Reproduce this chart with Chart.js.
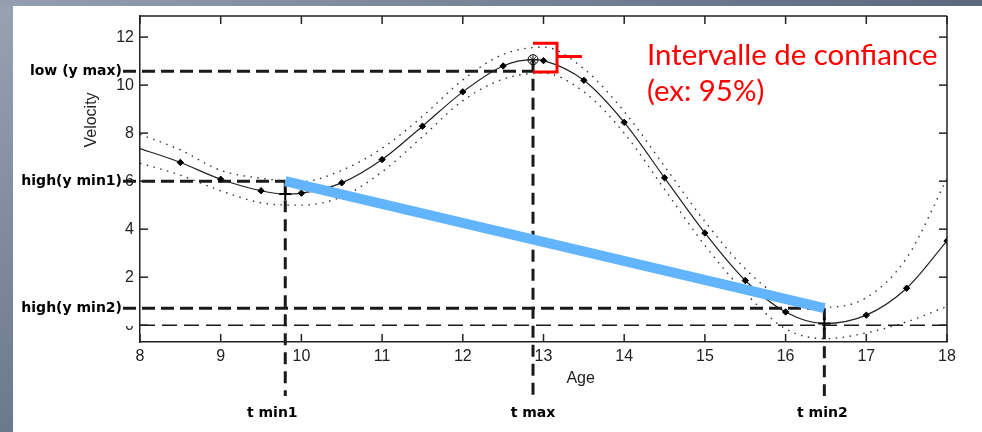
<!DOCTYPE html>
<html>
<head>
<meta charset="utf-8">
<script src="https://cdn.jsdelivr.net/npm/chart.js@4.4.1/dist/chart.umd.min.js"></script>
<style>
html, body { margin: 0; padding: 0; }
body { width: 982px; height: 432px; overflow: hidden; position: relative;
       background: linear-gradient(to bottom, #97a2b3, #6c788b); }
#band { position: absolute; left: 0; top: 0; width: 982px; height: 6px;
        background: linear-gradient(to right, #949fb0, #5b687d); }
#sheet { position: absolute; left: 13px; top: 6px; right: 0; bottom: 0; background: #fff; }
canvas { position: absolute; left: 0; top: 0; }
</style>
</head>
<body>
<div id="band"></div>
<div id="sheet"></div>
<canvas id="velocity" width="982" height="432"></canvas>
<script>
// fitted growth velocity: markers every half year plus the two minima and the peak
var curveAge      = [8, 8.5, 9, 9.5, 9.8, 10, 10.5, 11, 11.5, 12, 12.5, 12.87, 13, 13.5, 14, 14.5, 15, 15.5, 16, 16.48, 17, 17.5, 18];
var curveVelocity = [7.36, 6.78, 6.08, 5.6, 5.46, 5.5, 5.93, 6.9, 8.29, 9.72, 10.8, 11.06, 11.02, 10.2, 8.45, 6.14, 3.84, 1.86, 0.55, 0.07, 0.42, 1.54, 3.51];

// confidence band around the curve
var bandAge  = [8, 8.5, 9, 9.5, 10, 10.5, 11, 11.5, 12, 12.5, 13, 13.5, 14, 14.5, 15, 15.5, 16, 16.5, 17, 17.5, 18];
var bandHigh = [7.95, 7.3, 6.45, 6.12, 5.98, 6.45, 7.37, 8.7, 10.22, 11.28, 11.58, 10.68, 8.9, 6.62, 4.32, 2.35, 1.04, 0.75, 1.15, 2.8, 6.1];
var bandLow  = [6.75, 6.25, 5.6, 5.1, 5.0, 5.35, 6.39, 7.85, 9.35, 10.25, 10.5, 9.72, 8.0, 5.66, 3.32, 1.35, -0.15, -0.56, -0.32, 0.14, 0.78];

// key points: t min1 / t max / t min2 and their velocity levels
var keyAge        = [9.8, 12.87, 16.48];
var keyVelocity   = [6.0, 10.58, 0.71];
var ageNames      = ['t min1', 't max', 't min2'];
var velocityNames = ['high(y min1)', 'low (y max)', 'high(y min2)'];

// bracket showing the interval at the peak
var ciBracket = [10.55, 11.75];

var ageTicks      = [8, 9, 10, 11, 12, 13, 14, 15, 16, 17, 18];
var velocityTicks = [0, 2, 4, 6, 8, 10, 12];

var tickFont = { family: "'Liberation Sans', Arial, sans-serif", size: 16 };
var labelFont = "bold 14px 'DejaVu Sans', sans-serif";

function pts(xs, ys) {
    return xs.map(function(v, i) { return { x: v, y: ys[i] }; });
}

function markerStyle(c) {
    var age = curveAge[c.dataIndex];
    if (age === keyAge[1]) return 'circle';
    if (age === keyAge[0] || age === keyAge[2]) return 'cross';
    if (age === 8) return false;
    return 'rectRot';
}

function markerRadius(c) {
    var s = markerStyle(c);
    if (s === 'cross') return 6;
    if (s === 'circle') return 5;
    return s ? 3.2 : 0;
}

function line(ctx, x0, y0, x1, y1) {
    ctx.beginPath();
    ctx.moveTo(x0, y0);
    ctx.lineTo(x1, y1);
    ctx.stroke();
}

// dashed guides and their labels, under the curves
var guides = {
    id: 'guides',
    beforeDatasetsDraw: function(chart) {
        var ctx = chart.ctx, x = chart.scales.x, y = chart.scales.y, area = chart.chartArea;
        ctx.save();

        // text box behind the lowest label hides part of the "0"
        var yb = y.getPixelForValue(keyVelocity[2]);
        ctx.fillStyle = '#fff';
        ctx.fillRect(15, yb - 11, area.left - 17, 29);

        ctx.strokeStyle = '#1a1a1a';
        ctx.lineWidth = 1.4;
        ctx.setLineDash([15, 7]);
        var y0 = y.getPixelForValue(0);
        line(ctx, area.left, y0, area.right, y0);

        ctx.lineWidth = 3;
        keyAge.forEach(function(age, i) {
            var px = x.getPixelForValue(age);
            var py = y.getPixelForValue(keyVelocity[i]);
            ctx.setLineDash([13, 6]);
            line(ctx, area.left - 17, py, px, py);
            var top = Math.max(keyVelocity[i], curveVelocity[curveAge.indexOf(age)]);
            ctx.setLineDash([12, 7]);
            line(ctx, px, y.getPixelForValue(top), px, area.bottom + 54);
        });
        ctx.setLineDash([]);

        ctx.fillStyle = '#000';
        ctx.font = labelFont;
        ctx.textAlign = 'right';
        ctx.textBaseline = 'alphabetic';
        velocityNames.forEach(function(name, i) {
            ctx.fillText(name, area.left - 18, y.getPixelForValue(keyVelocity[i]) + 4);
        });
        var shift = [-13, 0, -2];
        ctx.textAlign = 'center';
        ageNames.forEach(function(name, i) {
            ctx.fillText(name, x.getPixelForValue(keyAge[i]) + shift[i], area.bottom + 75);
        });
        ctx.restore();
    }
};

// plot box with inward ticks, axis titles and the interval note
var notes = {
    id: 'notes',
    afterDraw: function(chart) {
        var ctx = chart.ctx, x = chart.scales.x, y = chart.scales.y, area = chart.chartArea;
        ctx.save();
        ctx.strokeStyle = '#222';
        ctx.lineWidth = 1.5;
        line(ctx, area.left, area.top, area.right, area.top);
        line(ctx, area.right, area.top, area.right, area.bottom);
        ageTicks.forEach(function(v) {
            var px = x.getPixelForValue(v);
            line(ctx, px, area.bottom, px, area.bottom - 8);
            line(ctx, px, area.top, px, area.top + 8);
        });
        velocityTicks.forEach(function(v) {
            var py = y.getPixelForValue(v);
            line(ctx, area.left, py, area.left + 8, py);
            line(ctx, area.right, py, area.right - 8, py);
        });

        ctx.fillStyle = '#222';
        ctx.font = "16px 'Liberation Sans', Arial, sans-serif";
        ctx.textAlign = 'center';
        ctx.textBaseline = 'middle';
        ctx.fillText('Age', x.getPixelForValue(13.46), area.bottom + 37);
        ctx.translate(area.left - 48, y.getPixelForValue(8.55));
        ctx.rotate(-Math.PI / 2);
        ctx.fillText('Velocity', 0, 0);
        ctx.restore();

        // red bracket at the peak
        ctx.save();
        var bx = x.getPixelForValue(keyAge[1]);
        var top = y.getPixelForValue(ciBracket[1]);
        var bot = y.getPixelForValue(ciBracket[0]);
        ctx.strokeStyle = '#ff0000';
        ctx.lineWidth = 3;
        ctx.lineJoin = 'miter';
        ctx.beginPath();
        ctx.moveTo(bx, top);
        ctx.lineTo(bx + 24, top);
        ctx.lineTo(bx + 24, bot);
        ctx.lineTo(bx, bot);
        ctx.stroke();
        line(ctx, bx + 24, (top + bot) / 2 - 1, bx + 49, (top + bot) / 2 - 1);

        ctx.fillStyle = '#ff0000';
        ctx.font = '28px Lato, sans-serif';
        var w = ctx.measureText('Intervalle de confiance').width;
        var size = 28 * 291 / w;
        ctx.font = size.toFixed(1) + 'px Lato, sans-serif';
        ctx.textAlign = 'left';
        ctx.textBaseline = 'alphabetic';
        ctx.fillText('Intervalle de confiance', 647, 65);
        ctx.fillText('(ex: 95%)', 647, 101);
        ctx.restore();
    }
};

var chart = new Chart(document.getElementById('velocity'), {
    type: 'line',
    data: {
        datasets: [
            {
                // slope between the two local minima levels
                data: [{ x: keyAge[0], y: keyVelocity[0] }, { x: keyAge[2], y: keyVelocity[2] }],
                borderColor: '#62b4fc',
                borderWidth: 10,
                borderCapStyle: 'butt',
                pointRadius: 0,
                order: 0
            },
            {
                data: [{ x: keyAge[1], y: curveVelocity[curveAge.indexOf(keyAge[1])] }],
                showLine: false,
                pointStyle: 'star',
                pointRadius: 4.5,
                borderColor: '#111',
                borderWidth: 1,
                order: 1
            },
            {
                data: pts(curveAge, curveVelocity),
                borderColor: '#222',
                borderWidth: 1.2,
                cubicInterpolationMode: 'monotone',
                pointStyle: markerStyle,
                pointRadius: markerRadius,
                pointBackgroundColor: function(c) { return markerStyle(c) === 'circle' ? 'rgba(0,0,0,0)' : '#000'; },
                pointBorderColor: '#000',
                pointBorderWidth: function(c) { return markerStyle(c) === 'cross' ? 2 : 1; },
                order: 2
            },
            {
                data: pts(bandAge, bandHigh),
                borderColor: '#333',
                borderWidth: 1.4,
                borderDash: [1.5, 5.5],
                cubicInterpolationMode: 'monotone',
                pointRadius: 0,
                order: 3
            },
            {
                data: pts(bandAge, bandLow),
                borderColor: '#333',
                borderWidth: 1.4,
                borderDash: [1.5, 5.5],
                cubicInterpolationMode: 'monotone',
                pointRadius: 0,
                order: 3
            }
        ]
    },
    options: {
        responsive: false,
        animation: false,
        layout: { padding: { top: 16, right: 35, left: 0, bottom: 0 } },
        plugins: { legend: { display: false }, tooltip: { enabled: false } },
        scales: {
            x: {
                type: 'linear',
                min: 8,
                max: 18,
                afterBuildTicks: function(s) { s.ticks = ageTicks.map(function(v) { return { value: v }; }); },
                afterFit: function(s) { s.height = 90; },
                grid: { display: false, drawTicks: false },
                border: { display: true, color: '#222', width: 1.5 },
                ticks: { font: tickFont, color: '#222', padding: 5, maxRotation: 0, autoSkip: false }
            },
            y: {
                min: -0.7,
                max: 12.88,
                afterBuildTicks: function(s) { s.ticks = velocityTicks.map(function(v) { return { value: v }; }); },
                afterFit: function(s) { s.width = 140; },
                grid: { display: false, drawTicks: false },
                border: { display: true, color: '#222', width: 1.5 },
                ticks: { font: tickFont, color: '#222', padding: 6 }
            }
        }
    },
    plugins: [guides, notes]
});
</script>
</body>
</html>
